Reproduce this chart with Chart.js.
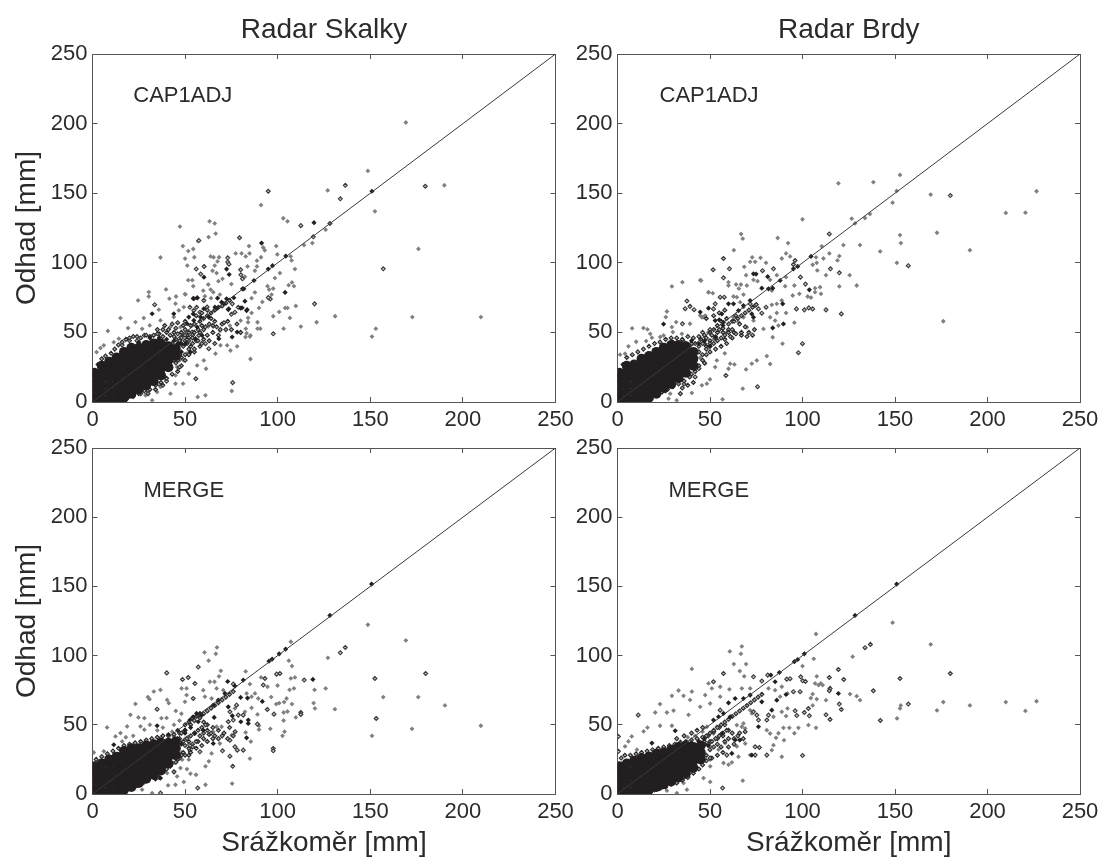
<!DOCTYPE html>
<html>
<head>
<meta charset="utf-8">
<title>Radar Skalky / Radar Brdy</title>
<script src="https://cdn.jsdelivr.net/npm/chart.js@4/dist/chart.umd.min.js"></script>
<style>
  body { margin: 0; background: #fff; }
  canvas { position: absolute; }
</style>
</head>
<body>
<canvas id="chartSkalkyCap" width="575" height="430" style="left:0;top:0"></canvas>
<canvas id="chartBrdyCap" width="526" height="430" style="left:575px;top:0"></canvas>
<canvas id="chartSkalkyMerge" width="575" height="430" style="left:0;top:430px"></canvas>
<canvas id="chartBrdyMerge" width="526" height="430" style="left:575px;top:430px"></canvas>
<script>
// Values, [srazkomer, odhad] in mm.
// *Core = the solid black part of each cloud, where single gauges can't be told apart.
const tickValues = [0, 50, 100, 150, 200, 250];
const diagonal = [[0, 0], [250, 250]];
const radarTitles = ['Radar Skalky', 'Radar Brdy'];
const methodNames = ['CAP1ADJ', 'MERGE'];
const xTitle = 'Srážkoměr [mm]';
const yTitle = 'Odhad [mm]';

const skalkyCapCore = [[1,2],[1,7],[1,12],[1,17],[1,21],[5,2],[5,7],[5,12],[5,17],[5,22],[5,26],[9,2],[9,7],[9,12],[9,17],[9,22],[9,27],[9,29],[13,2],[13,7],[13,12],[13,17],[13,22],[13,27],[13,32],[17,3],[17,8],[17,13],[17,18],[17,23],[17,28],[17,33],[17,36],[21,6],[21,11],[21,16],[21,21],[21,26],[21,31],[21,36],[21,39],[25,9],[25,14],[25,19],[25,24],[25,29],[25,34],[25,39],[29,12],[29,17],[29,22],[29,27],[29,32],[29,37],[29,41],[33,15],[33,20],[33,25],[33,30],[33,35],[33,40],[33,42],[37,19],[37,24],[37,29],[37,34],[37,39],[37,42],[41,25],[41,30],[41,35],[41,40],[45,33],[45,38]];
const skalkyCapEdge = [[3,27],[5,31],[7,33],[10,35],[12,38],[14,41],[16,43],[18,45],[20,46],[22,47],[24,47],[26,46],[29,48],[31,47],[33,48],[36,49],[38,47],[40,50],[42,48],[44,47],[46,49],[48,46],[50,48],[52,46],[54,48],[56,44],[58,50],[60,52],[62,48],[35,52],[39,55],[43,56],[46,57],[50,58],[53,55],[56,62],[59,64],[62,66],[64,60],[66,58],[70,56],[72,52],[75,52],[78,56],[80,50],[65,50],[68,48],[12,2],[16,1],[19,3],[22,4],[25,6],[28,8],[31,9],[34,12],[37,14],[40,17],[43,20],[46,22],[48,26],[50,30],[52,34],[55,36],[58,40],[47,34],[44,30],[42,24],[54,42],[60,45],[63,44],[66,42],[44,36],[46,40],[43,42],[48,42],[50,44],[47,44],[49,40],[51,42],[53,40],[55,38],[52,44],[54,46],[57,44],[59,42],[48,50],[50,52],[52,50],[55,50],[57,52],[59,55],[61,54],[63,56],[65,55],[67,54],[69,52],[71,57],[73,58],[55,56],[58,58],[60,60],[62,62],[64,64],[66,66],[68,68],[70,69],[72,71],[74,73],[44,50],[41,52],[38,52],[35,49],[45,53],[49,55],[51,45],[46,30],[48,32],[50,34],[52,38],[38,12],[34,9],[30,6],[45,28],[47,25]];
const skalkyCapGray = [[169.2,200.8],[148.7,166],[127,152],[152.5,137],[190,155.7],[176,110],[172.7,61],[209.7,61],[131,61.6],[91,141.5],[103,132],[105.3,129.8],[63.2,129.8],[66,128.3],[47.2,126],[62.7,118.5],[66.5,121],[57,115.6],[125.9,123.8],[114.2,112.7],[118.7,114.2],[99.2,112],[84.5,112],[92.2,111],[93,109],[48.8,112],[51.7,108.4],[54.4,109.9],[50,103],[55,104],[63.8,104.6],[65.4,104],[68.3,104],[67.5,101],[77.3,106.7],[80.5,106.7],[84.8,106.7],[82.7,104.6],[99.8,106],[88.8,101.5],[91,104],[107,104.6],[107.5,101.7],[109.3,95.5],[51.2,98],[66,98],[64.8,94.3],[67,92.6],[83.7,97.4],[88.8,97.4],[87.7,94.3],[82.3,90],[101.2,92.6],[98.5,89],[107.7,85.9],[105.9,83.9],[108.8,83.2],[51.7,87.5],[53.9,87.5],[54.4,83.2],[49.9,77.5],[62.5,84.4],[63.8,80.8],[65.2,78.9],[59.8,80],[68,86.8],[70.2,88.5],[75,84.7],[94.5,83.2],[95.4,80.8],[97.6,81.5],[96.7,77.2],[87.7,78.7],[85.9,74.6],[91.7,71.9],[68.8,77.2],[60.7,76],[64,74.6],[109.8,69],[104,67.6],[105.3,67.6],[100.8,64.7],[89.9,67.6],[85.9,64],[106.6,60.4],[97.6,61.6],[121,57.3],[112.5,54.2],[103.2,52.7],[153,52.7],[150.9,47],[89.1,57.3],[89.1,52.7],[90.6,52.7],[84,60.4],[84,57.3],[80,58.5],[82.8,52.7],[83.2,49.4],[85,47],[74.2,54.9],[69.7,56.1],[68.8,51.3],[65.2,54.2],[59.8,54.2],[62.5,54.2],[24.6,73],[30.4,79],[30.4,75.8],[39.7,80.9],[45.1,75.8],[15.1,60.3],[8.3,51],[19.2,53.1],[23.2,57.4],[27.7,60.3],[35.8,66.3],[41.5,74.2],[44.8,70.6],[50.2,77.3],[6.1,40.7],[2.2,35.9],[4.3,38.8],[11.5,43],[14.2,45.5],[26.8,52.6],[30.9,55],[36.7,58.6],[43.9,61],[47.5,53.8],[42,53.8],[33.1,47.8],[46.6,65.8],[49.3,68.2],[75.2,7.9],[61,4.8],[56.8,3.6],[48.9,13.2],[85.3,30.9],[66.4,34.7],[60.1,29.9],[61.3,23.9],[56.5,26.3],[52,20.3],[44.8,19.1],[44.8,13.2],[36.7,10.8],[32.2,1.2],[28.6,4.8],[42.1,6],[34.9,7.2],[39.4,16.7],[25,8.4],[45.7,25.1],[49.3,29.9],[69.1,40.7],[72.7,40.7],[78.1,40],[74.5,37],[82.6,46.7],[85.3,47.8],[36.7,103.8],[47,30],[51,35],[46,38]];
const skalkyCapOpen = [[94.9,151.4],[136.5,155.7],[133.8,146],[179.7,155],[157,95.7],[119.9,70.5],[79.4,118],[112.5,126.7],[128.2,128.3],[119.2,118.7],[97.6,49],[56,95.5],[60.3,97.4],[58.4,91.9],[73,103.6],[73,100.5],[73.7,99],[80,95],[80.1,91.4],[81,88.5],[96,74],[94.9,75],[75.5,70.5],[78.7,68],[52.6,68],[56.2,68],[58,64.5],[76.9,64.5],[75,63],[33.6,69.9],[75.7,13.9],[55.8,16.7],[51.1,47.8],[53.8,50.2],[57.4,47.8],[61,41.9],[62.8,38.3],[54.7,65.8],[60.1,73],[61.9,68.2],[57.4,116],[28,48],[24,44],[20,44],[16,41],[45,45],[48,47],[40,15],[36,13],[30,8],[26,6]];
const skalkyCapSolid = [[119.6,128.8],[91.3,114.2],[60.2,89.7],[73.8,91.6],[72.4,95.5],[104,78.7],[94.9,95.5],[97.2,97.9],[150.9,151.4],[104.4,104.8],[87.2,87.3],[81,81.3],[72.4,74.1],[69.7,71.7],[66.1,68.1],[54.4,74.4],[56.6,74.8],[83.2,65.7],[73.3,66.4],[80,67.4],[67.5,74.6],[82.3,72.4],[54.4,63.3],[32.2,63.4],[43.9,63.4],[54.7,74.2],[56.5,74.9],[52,61],[54.7,58.6],[51.1,56.2],[56.5,53.8],[59.2,47.8],[55.6,45.5],[52.9,35.9],[50.2,41.9],[47.5,41.9],[58.3,61],[60.1,67],[62.8,61],[78.1,50.2],[75.4,46.7],[68.2,45.5],[83.5,66.3],[80.8,67.7],[73.6,67],[70.9,70.6],[67.3,67.5],[76.3,74.9],[81.7,81.3],[46,42],[48,36],[44,44],[40,45],[36,46],[31,46],[25,43],[35,44]];

const brdyCapCore = [[1,2],[1,7],[1,12],[1,17],[1,21],[5,2],[5,7],[5,12],[5,17],[5,22],[5,26],[9,2],[9,7],[9,12],[9,17],[9,22],[9,27],[13,2],[13,7],[13,12],[13,17],[13,22],[13,27],[13,31],[17,3],[17,8],[17,13],[17,18],[17,23],[17,28],[17,33],[21,6],[21,11],[21,16],[21,21],[21,26],[21,31],[21,36],[25,10],[25,15],[25,20],[25,25],[25,30],[25,35],[25,39],[29,13],[29,18],[29,23],[29,28],[29,33],[29,38],[29,41],[33,17],[33,22],[33,27],[33,32],[33,37],[33,41],[37,21],[37,26],[37,31],[37,36],[37,40],[41,26],[41,31],[41,36]];
const brdyCapEdge = [[3,27],[5,32],[8,34],[11,36],[14,38],[17,40],[20,42],[23,43],[26,45],[29,46],[32,46],[35,45],[38,47],[41,46],[44,47],[47,48],[50,50],[52,52],[54,55],[56,58],[59,60],[62,58],[64,62],[60,52],[57,50],[53,46],[50,44],[47,42],[66,56],[69,54],[63,50],[67,48],[71,50],[74,52],[48,60],[52,62],[55,64],[58,66],[14,2],[18,3],[21,5],[24,7],[27,9],[30,11],[33,13],[36,15],[39,18],[42,22],[44,26],[46,30],[48,34],[50,36],[53,38],[56,40],[59,42],[62,46],[35,10],[38,12],[41,14],[34,6],[44,40],[46,42],[48,40],[50,42],[52,42],[54,44],[56,46],[58,48],[60,50],[62,52],[45,45],[48,46],[51,48],[54,50],[57,53],[60,56],[63,58],[65,60],[67,62],[69,64],[71,66],[73,68],[75,70],[44,36],[46,34],[48,38],[50,40],[55,52],[58,45],[61,47],[64,49],[67,50],[70,47],[73,48],[42,42],[40,42],[36,43],[40,20],[44,24],[47,28]];
const brdyCapGray = [[119.4,157.1],[138.3,157.9],[152.7,163.1],[150.9,151.6],[169.3,149],[148.7,143.2],[209.9,135.8],[220.5,136],[226.5,151.4],[126.6,131.7],[136.5,135],[133.8,132.2],[128.4,128.3],[172.7,121.6],[152.7,119.9],[153.2,114.2],[190.5,109.1],[176.1,58],[142,108.2],[151,100],[131.1,112.7],[122.1,112.7],[114.5,106.7],[110.4,111.8],[119.9,104.8],[118.9,101.7],[111.3,103.1],[107.3,103.9],[107.7,100],[105.5,98.6],[108,94.5],[112.7,91.1],[125.5,91.1],[129.3,83.7],[119.9,83],[100,131.2],[86.6,117.8],[92.2,114.2],[66.8,120.7],[67.7,117.3],[62.9,109.1],[91.1,106.7],[93.3,104.6],[88.8,103.1],[72.8,103.9],[77.3,103.6],[71.7,100.7],[74.4,100.7],[80.3,100],[68.5,97.1],[44.7,87.5],[60,86.1],[60,83.7],[64.1,84.4],[66.7,84.4],[69.9,83.7],[65.6,81.5],[73.5,87.8],[75.7,86.8],[69.5,91.1],[82.5,87.8],[86.1,91.1],[91.1,89.7],[95.6,83.7],[90.6,83.2],[98.3,77.7],[94.7,76.5],[102.8,75.8],[104.6,75],[106.8,81.8],[109.5,82.5],[106.8,78.9],[110,77.7],[49.2,78.7],[51.5,78.2],[62.7,75.8],[64.5,75.3],[68.1,77.2],[83.4,80.1],[86.1,70.5],[88.8,72.9],[83.4,69.8],[91.1,64],[86.1,64],[95.6,57],[87,54.9],[82.5,60.9],[85.2,58.5],[78.9,52.5],[83.9,46.5],[66.3,71.7],[68.1,68.1],[62.7,60.9],[68.1,60.9],[73.5,58.5],[47.4,62.1],[45.6,60.9],[65.4,57.3],[59.1,50.1],[69.9,53.7],[67.7,9.6],[56.8,1.9],[89.2,41.9],[80.7,33],[82.5,27.3],[75.3,29.9],[72.6,27.5],[69.5,23.4],[63.2,27],[60.9,27.5],[60,23.9],[48.3,13.2],[45.6,12],[50,16.3],[40.2,6.5],[32,1.2],[27.6,2.4],[28.5,6],[53.7,29.9],[52.8,25.1],[47.4,27.5],[44.7,31.8],[7.9,52.9],[14,53.1],[16.2,52.2],[10.1,43.3],[5.9,40],[1.4,34],[4.1,34.7],[17.7,49],[18.6,46.2],[15.5,43.8],[23.1,46.7],[29.4,83],[35.1,86.1],[45.2,87.3],[26.7,65],[26.1,61],[29.4,53.8],[31.7,57.4],[29.9,50.2],[44.7,62.2],[24.9,47.8],[34.8,49],[39.2,56.2],[46.5,61],[49.2,78.9],[52,45],[49,50],[56,40],[58,35]];
const brdyCapOpen = [[179.9,148.3],[114.5,120.7],[157.2,97.9],[121,63.3],[112.7,66.2],[105.5,66.9],[103.4,67.6],[101,66.2],[96.7,66.9],[119.9,92.8],[115.1,95.7],[98.9,89.7],[101.6,84.7],[57.3,103.1],[51.7,95],[60.5,95.7],[57.3,89.2],[78.4,94.3],[84.3,95.7],[96,101.7],[95.1,98.8],[55.5,75.3],[57.7,75.3],[52.8,70.5],[51.9,66.9],[71.7,70.5],[74.4,69.3],[76.2,66.9],[78,63.8],[80.3,68.1],[75.7,11],[97.8,35.4],[100,41.9],[58.6,19.1],[37.5,72.5],[36.6,67],[39.2,68.7],[41.4,66.3],[35.1,56.2],[46,50],[50,52],[42,18],[36,13],[30,12],[26,8]];
const brdyCapSolid = [[74.9,91.9],[73.5,92.1],[81.2,90],[78,81.8],[87.9,87.3],[95.1,95.7],[97.4,97.4],[104.6,104.6],[103.7,80.6],[89.3,70.5],[89.7,56.1],[83.9,53.2],[62.7,70.5],[60,70.5],[65.4,65.7],[68.1,69.3],[71.7,72.9],[81.6,81.3],[83.9,81.8],[56.4,63.3],[57.3,57.3],[72.6,63.3],[73.5,60.9],[49.2,67.4],[52.8,58.5],[24.9,56],[44.7,64.6],[47,44],[44,42],[50,40],[53,47],[57,55],[55,59],[40,44],[30,43]];

const skalkyMergeCore = [[1,2],[1,7],[1,12],[1,17],[1,20],[5,2],[5,7],[5,12],[5,17],[5,22],[9,2],[9,7],[9,12],[9,17],[9,22],[9,25],[13,2],[13,7],[13,12],[13,17],[13,22],[13,27],[17,3],[17,8],[17,13],[17,18],[17,23],[17,28],[17,31],[21,5],[21,10],[21,15],[21,20],[21,25],[21,30],[21,33],[25,8],[25,13],[25,18],[25,23],[25,28],[25,33],[29,11],[29,16],[29,21],[29,26],[29,31],[29,35],[33,14],[33,19],[33,24],[33,29],[33,34],[33,36],[37,17],[37,22],[37,27],[37,32],[37,37],[41,22],[41,27],[41,32],[41,37],[45,28],[45,33],[45,38]];
const skalkyMergeEdge = [[2,25],[5,27],[8,29],[11,31],[14,33],[17,35],[20,36],[23,37],[26,38],[29,39],[32,40],[35,41],[38,42],[41,42],[44,43],[47,44],[50,46],[53,50],[55,53],[58,55],[60,52],[62,50],[65,48],[68,46],[71,44],[74,48],[77,45],[63,43],[60,40],[57,38],[54,36],[52,33],[49,30],[14,1],[18,2],[21,4],[24,6],[27,8],[30,10],[33,12],[36,15],[39,18],[42,20],[45,23],[47,26],[50,28],[53,30],[56,33],[59,35],[62,38],[65,40],[68,40],[44,16],[47,40],[49,38],[51,40],[53,42],[55,44],[57,46],[59,48],[61,50],[50,35],[52,38],[54,34],[56,38],[58,42],[60,44],[62,46],[64,44],[66,42],[48,44],[50,50],[52,52],[54,55],[56,56],[58,57],[60,58],[62,60],[64,62],[66,64],[68,66],[70,68],[72,70],[74,72],[76,74],[46,25],[48,28],[44,28],[52,28],[70,42],[73,40],[76,42],[40,18],[36,12]];
const skalkyMergeGray = [[148.7,122.3],[169.2,111],[127.1,98.4],[107.1,110],[67.2,105.9],[60.5,102.3],[66.6,101.3],[62.7,96.3],[106,96.3],[107.7,92.4],[82.7,88.6],[69.3,89],[68.3,85],[109.3,84.2],[107.1,83.5],[65.9,81.1],[63.4,81.1],[91,84.2],[85,79.4],[99.9,78.4],[108.8,76.3],[106.4,75.3],[94.5,77.5],[119.9,75.3],[125.9,76.3],[96.5,70],[104.8,69],[103.5,66.4],[107.7,65],[100.8,65.7],[99.2,65],[119.4,65.7],[120.1,61.8],[130.9,61.3],[157,70],[175.9,70],[190.3,64],[209.7,49.3],[172.5,47.1],[150.9,42],[103.2,58.9],[105.3,59.6],[103.2,53.1],[109.8,55.3],[96,47.1],[103.7,45],[102.6,42],[89.9,49.5],[89.9,46.6],[89.1,57.5],[85.9,70.3],[89.5,69],[87.7,72.7],[83.2,72.7],[85.9,62.3],[82.3,59.4],[82.7,44.5],[85.5,37.9],[75.1,42.5],[68.8,36.5],[65.2,44.9],[69.7,48.6],[64.3,69],[60.7,70.3],[59.8,75],[67,76.3],[70.6,75],[50.8,76.3],[48.1,76.3],[50.8,71.5],[49.9,66.6],[76.9,61.8],[85,25.6],[64.3,29.3],[49,44.9],[51.7,41.3],[67,48.6],[23.2,65.1],[20.5,57.2],[24.8,55.3],[28,54.8],[7.9,48.1],[15.1,44],[12.4,41.6],[18.7,48.8],[29.9,70],[30.8,68.5],[33.1,74],[36.7,75.2],[40.3,68],[41.2,65.6],[37.2,54.8],[.7,30],[6.1,30.8],[16,38],[44.8,6.7],[49.3,8.7],[40.8,6.3],[32.2,.7],[26.8,3.1],[61,6.7],[75.4,7.5],[55.9,13.9],[52.9,14.7],[51,18],[45.7,12.7],[40.3,15.1],[61,20],[62.8,23.6],[52,24.8],[48.4,24.8],[43.9,22.4],[47.5,18.8],[29.5,12.7],[27.7,7.9],[42.1,27.2],[45.7,28.4],[43.9,41.6],[45.7,36.8],[25.9,48.8],[28,46.5],[31,50],[35,46],[38,48],[40,55],[44,50],[47,53],[43,45],[48,58],[45,60],[37,41],[22,42],[18,41],[48,30],[50,40],[52,36]];
const skalkyMergeOpen = [[136.5,105.9],[133.8,102],[179.9,87.1],[152.5,83.5],[153.2,54.6],[114.3,82.3],[57.1,91.7],[51.7,84.2],[48.6,82.8],[55.3,79.9],[93.1,83.5],[99.4,86.6],[101.2,87.1],[112.5,58.9],[112.5,57.5],[98,57.7],[94.4,61.1],[97.6,32.9],[97.6,31.2],[92.2,78.7],[76,79.4],[77.8,64.2],[78.7,57],[81.4,57],[74.2,59.4],[73.3,52.2],[76,53.4],[74.2,38.9],[76.9,34.1],[81.4,31.7],[78.2,31.7],[70.2,31.2],[74.2,27.3],[58,30.5],[54.4,69],[52.6,31.2],[89,50.5],[40.1,87.5],[34.9,61.3],[36.7,.7],[56.8,4.3],[75.7,20],[30,10],[34,14],[38,20]];
const skalkyMergeSolid = [[119,82.8],[73,81.3],[97,97.5],[95.3,96],[100.8,101.3],[104.3,104.7],[128.2,129],[150.7,151.7],[81.4,82.3],[80,69.8],[83.7,69.3],[91.7,66.9],[84.1,53.4],[84.1,51],[80.1,52.2],[83.2,40.6],[75.5,56.5],[71.5,72.7],[67.9,67.8],[65.2,64.2],[58,58.2],[56.2,58.2],[54.4,55.8],[52.6,53.4],[58.9,57],[57.1,52.2],[59.8,46.1],[55.3,43.7],[65.2,36.5],[73.3,63],[76.9,78],[65.7,55.3],[49.9,46.1],[34.9,49.3],[11.5,35.6],[36.7,11.5],[34,10.8],[46,40],[48,36],[44,38],[41,43],[50,44],[53,48],[46,46]];

const brdyMergeCore = [[1,2],[1,7],[1,12],[1,17],[1,20],[5,2],[5,7],[5,12],[5,17],[5,22],[9,2],[9,7],[9,12],[9,17],[9,22],[9,24],[13,2],[13,7],[13,12],[13,17],[13,22],[13,26],[17,3],[17,8],[17,13],[17,18],[17,23],[17,27],[21,5],[21,10],[21,15],[21,20],[21,25],[21,29],[25,7],[25,12],[25,17],[25,22],[25,27],[25,30],[29,9],[29,14],[29,19],[29,24],[29,29],[29,32],[33,12],[33,17],[33,22],[33,27],[33,32],[33,34],[37,15],[37,20],[37,25],[37,30],[37,35],[41,19],[41,24],[41,29],[41,34],[45,25],[45,30],[45,35]];
const brdyMergeEdge = [[2,26],[4,28],[7,28],[10,29],[13,30],[16,31],[19,32],[22,33],[25,34],[28,35],[31,36],[34,37],[37,38],[40,39],[43,40],[46,41],[49,42],[52,45],[55,48],[58,50],[60,46],[62,44],[65,42],[68,40],[46,48],[43,46],[40,44],[36,42],[32,40],[50,38],[47,36],[54,40],[57,42],[13,1],[17,2],[20,3],[23,4],[26,5],[29,7],[32,8],[35,10],[38,12],[41,15],[44,18],[46,21],[48,24],[51,26],[54,28],[57,30],[45,30],[42,27],[60,34],[63,36],[47,38],[49,36],[51,38],[53,40],[55,42],[57,44],[59,46],[50,32],[52,34],[54,36],[56,34],[58,38],[60,40],[48,42],[50,44],[52,46],[54,48],[56,50],[58,52],[60,54],[62,56],[64,58],[66,60],[68,62],[70,64],[72,66],[74,68],[76,70],[78,72],[46,26],[48,28],[44,24],[40,18],[36,12],[50,26],[63,40],[66,44],[69,45]];
const brdyMergeGray = [[107.3,115.6],[148.7,123.8],[169.3,108.1],[67.2,106.6],[66.7,101.3],[60.7,103],[62.9,93.9],[69.5,93.9],[106.1,97.7],[127.1,99.2],[66.1,88.8],[68.5,85],[100,92.4],[107.7,85],[109.9,79.9],[108.6,78.7],[106.8,79.9],[110.9,78.7],[125.7,72.2],[129.3,70.7],[131.1,67.8],[105.5,72.2],[104.5,69.3],[107.7,68.6],[112.7,67.8],[105.5,64],[190.5,64],[209.9,66.4],[220.5,60],[226.5,67],[176.1,66.4],[172.7,60.4],[153.1,64],[152.7,61.8],[151.1,54.6],[107.3,47.8],[103.2,49.8],[97.8,47.8],[95.6,43.9],[92.9,47.8],[89.7,47.8],[90,38.9],[85.7,40.6],[87,43.9],[84.3,55.8],[88.8,77.5],[91.9,72.7],[87.9,70.3],[85.2,75],[81.6,76.3],[88.8,59.4],[91.1,56.3],[91.9,61.8],[71.7,76.3],[67.2,76.3],[60.5,75.6],[55.5,77.5],[51,76.3],[49.2,79.9],[47.4,71.5],[44.7,63],[55.5,70.3],[50.1,65.4],[68.1,51],[67.2,48.6],[69,47.4],[64.5,49.8],[72.6,58.2],[71.7,60.6],[80.7,46.1],[82.5,43.7],[84.3,35.3],[88.8,26.9],[65.4,26.9],[71.7,28.1],[83.4,31.7],[69,36.5],[66.3,39],[53.7,48.6],[48.3,48.6],[51.9,43.7],[20.4,58.9],[16.2,48],[23,65],[29.4,70.9],[33,74.8],[40.2,90.4],[40.2,74],[35.7,70.9],[39.2,68],[38.4,57.2],[29.4,49.3],[23,49.3],[26.7,58.9],[30.3,60.3],[14.1,45.2],[7.7,41.6],[5.9,38],[4.1,34.4],[10.5,32],[67.7,9.6],[50.1,8.7],[46.5,11.5],[37.5,3.1],[32.1,.7],[26.7,2.4],[24,4.3],[35.7,7.9],[38.4,12.7],[41.1,16.3],[50.1,20],[57.3,22.4],[61.8,22.8],[60,21.2],[54.6,32],[58.2,36.8],[64.5,34.4],[46.5,27.2],[50.1,24.8],[50.1,34.4],[46,45],[42,42],[38,41],[34,38]];
const brdyMergeOpen = [[136.7,108.1],[133.8,105.7],[179.9,87.1],[152.7,83.5],[119.4,90],[122.3,82.8],[114.5,84.2],[138.3,74.6],[157.2,65],[142.1,53.1],[100,27.8],[114.9,53.9],[112.7,57.2],[121,61.1],[119.9,65],[114.9,76.3],[114.5,74.6],[99,84.7],[100.1,81.8],[101.6,81.3],[91.5,83],[93.3,83.3],[57.3,87.1],[51.9,81.1],[73.5,84.7],[78,81.6],[81.2,85.9],[101,58.9],[103.7,56.5],[96,60.1],[96.9,56.7],[98.7,73.9],[95.1,73.9],[103.2,61.8],[55.5,60.6],[75.3,57],[73.5,59.4],[76.2,53.4],[81.6,57],[80.7,53.4],[74.4,34.1],[76.7,33.6],[80.7,28.1],[74.4,28.1],[59.1,28.1],[11.2,57],[.5,41.6],[.5,30.8],[56.8,4.3]];
const brdyMergeSolid = [[119.4,72.6],[82.9,85.9],[85.2,81.1],[87.5,87.8],[95.6,95.6],[97.4,97.2],[101,101.3],[128.4,129],[150.9,151.7],[91.1,71.9],[86.1,67.8],[83.4,60.6],[78,66.6],[71.7,71.5],[68.1,69],[63.6,69],[60,65.9],[57.3,58.2],[54.6,55.8],[51.9,53.4],[60.9,55.8],[76.2,48.6],[72.6,28.1],[63.6,39],[56.4,43.7],[61.8,29.3],[66,39],[31.2,45.7],[18.6,36.8],[47,40],[44,38],[40,37],[36,36],[49,35],[44,33]];

const textColor = '#2b2b2b';
const axisColor = '#555555';
const tickFont = { family: 'Liberation Sans, Arial, sans-serif', size: 22 };
const titleFont = { family: 'Liberation Sans, Arial, sans-serif', size: 28 };

// method name written inside the axes
const methodLabel = {
  id: 'methodLabel',
  afterDraw(chart, args, opts) {
    const ctx = chart.ctx;
    ctx.save();
    ctx.font = '22px "Liberation Sans", Arial, sans-serif';
    ctx.fillStyle = textColor;
    ctx.textBaseline = 'middle';
    ctx.fillText(opts.text, chart.scales.x.getPixelForValue(opts.x), chart.scales.y.getPixelForValue(opts.y));
    ctx.restore();
  }
};

const fixedTicks = (scale) => { scale.ticks = tickValues.map(v => ({ value: v })); };

// the layout keeps room for half of the end labels otherwise
const noScalePadding = (s) => { s.paddingLeft = s.paddingRight = s.paddingTop = s.paddingBottom = 0; };

const createChart = (id, cfg) => {
  new Chart(document.getElementById(id), {
    type: 'scatter',
    data: {
      datasets: [
        { data: diagonal, showLine: true, pointRadius: 0, borderColor: '#3a3a3a', borderWidth: 1, order: 1 },
        { data: cfg.solid, pointStyle: 'rectRot', pointRadius: 2.6, borderWidth: 0, backgroundColor: '#231f20', order: 2 },
        { data: cfg.core, pointStyle: 'circle', pointRadius: 5, borderWidth: 0, backgroundColor: '#231f20', order: 3 },
        { data: cfg.edge, pointStyle: 'rectRot', pointRadius: 2, borderWidth: 1.1, borderColor: '#2b2b2b', backgroundColor: '#a8a8a8', order: 4 },
        { data: cfg.open, pointStyle: 'rectRot', pointRadius: 2, borderWidth: 1.1, borderColor: '#3a3a3a', backgroundColor: '#c4c4c4', order: 5 },
        { data: cfg.gray, pointStyle: 'rectRot', pointRadius: 2.4, borderWidth: 0, backgroundColor: '#808080', order: 6 }
      ]
    },
    plugins: [methodLabel],
    options: {
      responsive: false,
      animation: false,
      layout: { autoPadding: false, padding: { right: cfg.padRight } },
      plugins: {
        legend: { display: false },
        tooltip: { enabled: false },
        methodLabel: { text: cfg.method, x: cfg.labelX, y: cfg.labelY }
      },
      scales: {
        x: {
          type: 'linear', min: 0, max: 250, position: 'bottom',
          afterBuildTicks: fixedTicks,
          afterFit: (s) => { s.height = cfg.bottom; noScalePadding(s); },
          border: { color: axisColor },
          grid: { drawOnChartArea: false, tickLength: -5, tickColor: axisColor },
          ticks: { font: tickFont, color: textColor, padding: 10, maxRotation: 0, autoSkip: false },
          title: { display: !!cfg.xTitle, text: cfg.xTitle, font: titleFont, color: textColor, padding: { top: 0, bottom: 0 } }
        },
        y: {
          type: 'linear', min: 0, max: 250, position: 'left',
          afterBuildTicks: fixedTicks,
          afterFit: (s) => { s.width = cfg.left; noScalePadding(s); },
          border: { color: axisColor },
          grid: { drawOnChartArea: false, tickLength: -5, tickColor: axisColor },
          ticks: { font: tickFont, color: textColor, padding: 10, autoSkip: false },
          title: { display: !!cfg.yTitle, text: cfg.yTitle, font: titleFont, color: textColor, padding: { top: 10, bottom: 0 } }
        },
        xTop: {
          type: 'linear', min: 0, max: 250, position: 'top',
          afterBuildTicks: fixedTicks,
          afterFit: (s) => { s.height = cfg.top; noScalePadding(s); },
          border: { color: axisColor },
          grid: { drawOnChartArea: false, tickLength: -5, tickColor: axisColor },
          ticks: { display: false },
          title: { display: !!cfg.title, text: cfg.title, font: titleFont, color: textColor, padding: { top: 13, bottom: 0 } }
        },
        yRight: {
          type: 'linear', min: 0, max: 250, position: 'right',
          afterBuildTicks: fixedTicks,
          afterFit: (s) => { s.width = 0; noScalePadding(s); },
          border: { color: axisColor },
          grid: { drawOnChartArea: false, tickLength: -5, tickColor: axisColor },
          ticks: { display: false }
        }
      }
    }
  });
};

// 4 panels
createChart('chartSkalkyCap', { core: skalkyCapCore, edge: skalkyCapEdge, gray: skalkyCapGray, open: skalkyCapOpen, solid: skalkyCapSolid, method: methodNames[0], labelX: 22, labelY: 220, title: radarTitles[0], yTitle: yTitle, xTitle: '', left: 92.5, top: 54, bottom: 28, padRight: 19.5 });
createChart('chartBrdyCap', { core: brdyCapCore, edge: brdyCapEdge, gray: brdyCapGray, open: brdyCapOpen, solid: brdyCapSolid, method: methodNames[0], labelX: 22.7, labelY: 220, title: radarTitles[1], yTitle: '', xTitle: '', left: 42.5, top: 54, bottom: 28, padRight: 21 });
createChart('chartSkalkyMerge', { core: skalkyMergeCore, edge: skalkyMergeEdge, gray: skalkyMergeGray, open: skalkyMergeOpen, solid: skalkyMergeSolid, method: methodNames[1], labelX: 27.5, labelY: 219, title: '', yTitle: yTitle, xTitle: xTitle, left: 92.5, top: 18, bottom: 66, padRight: 19.5 });
createChart('chartBrdyMerge', { core: brdyMergeCore, edge: brdyMergeEdge, gray: brdyMergeGray, open: brdyMergeOpen, solid: brdyMergeSolid, method: methodNames[1], labelX: 27.5, labelY: 219, title: '', yTitle: '', xTitle: xTitle, left: 42.5, top: 18, bottom: 66, padRight: 21 });
</script>
</body>
</html>
